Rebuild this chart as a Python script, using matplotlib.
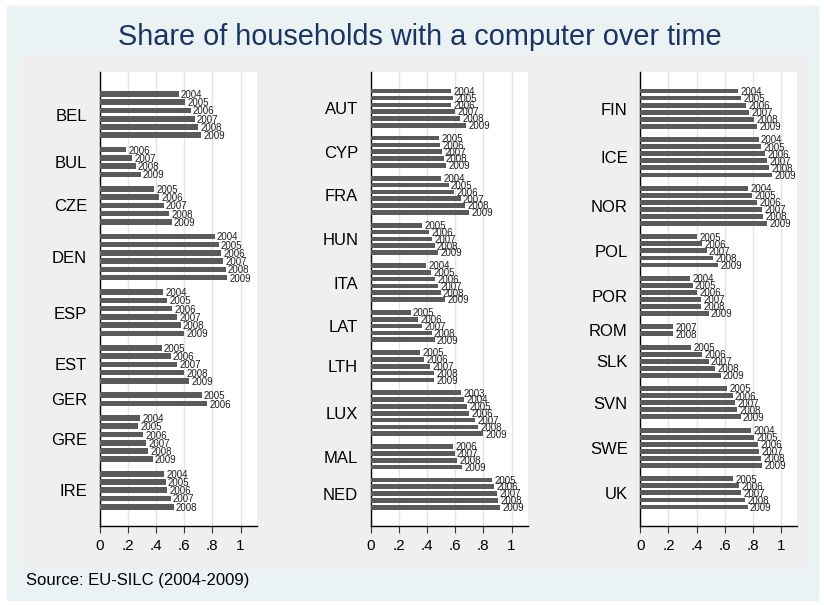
import numpy as np
import matplotlib
matplotlib.use("Agg")
import matplotlib.pyplot as plt
from matplotlib.patches import Rectangle

plt.rcParams['font.family'] = ['Liberation Sans', 'DejaVu Sans']

# Data: share of households with a computer, by country and survey year
left_countries = ['BEL', 'BUL', 'CZE', 'DEN', 'ESP', 'EST', 'GER', 'GRE', 'IRE']
left_years = [
    [2004, 2005, 2006, 2007, 2008, 2009],
    [2006, 2007, 2008, 2009],
    [2005, 2006, 2007, 2008, 2009],
    [2004, 2005, 2006, 2007, 2008, 2009],
    [2004, 2005, 2006, 2007, 2008, 2009],
    [2005, 2006, 2007, 2008, 2009],
    [2005, 2006],
    [2004, 2005, 2006, 2007, 2008, 2009],
    [2004, 2005, 2006, 2007, 2008],
]
left_values = [
    [0.560, 0.605, 0.645, 0.674, 0.698, 0.720],
    [0.190, 0.230, 0.255, 0.290],
    [0.388, 0.420, 0.455, 0.495, 0.512],
    [0.817, 0.845, 0.862, 0.879, 0.895, 0.907],
    [0.450, 0.480, 0.517, 0.548, 0.576, 0.598],
    [0.440, 0.505, 0.552, 0.602, 0.633],
    [0.724, 0.764],
    [0.288, 0.271, 0.307, 0.329, 0.345, 0.376],
    [0.460, 0.469, 0.479, 0.505, 0.526],
]

mid_countries = ['AUT', 'CYP', 'FRA', 'HUN', 'ITA', 'LAT', 'LTH', 'LUX', 'MAL', 'NED']
mid_years = [
    [2004, 2005, 2006, 2007, 2008, 2009],
    [2005, 2006, 2007, 2008, 2009],
    [2004, 2005, 2006, 2007, 2008, 2009],
    [2005, 2006, 2007, 2008, 2009],
    [2004, 2005, 2006, 2007, 2008, 2009],
    [2005, 2006, 2007, 2008, 2009],
    [2005, 2006, 2007, 2008, 2009],
    [2003, 2004, 2005, 2006, 2007, 2008, 2009],
    [2006, 2007, 2008, 2009],
    [2005, 2006, 2007, 2008, 2009],
]
mid_values = [
    [0.570, 0.584, 0.570, 0.600, 0.636, 0.678],
    [0.485, 0.492, 0.508, 0.518, 0.534],
    [0.500, 0.553, 0.591, 0.638, 0.669, 0.700],
    [0.366, 0.414, 0.437, 0.454, 0.480],
    [0.395, 0.428, 0.456, 0.478, 0.496, 0.530],
    [0.284, 0.338, 0.366, 0.433, 0.454],
    [0.350, 0.378, 0.420, 0.449, 0.449],
    [0.643, 0.664, 0.683, 0.700, 0.740, 0.764, 0.797],
    [0.584, 0.596, 0.612, 0.648],
    [0.863, 0.879, 0.900, 0.905, 0.917],
]

right_countries = ['FIN', 'ICE', 'NOR', 'POL', 'POR', 'ROM', 'SLK', 'SVN', 'SWE', 'UK']
right_years = [
    [2004, 2005, 2006, 2007, 2008, 2009],
    [2004, 2005, 2006, 2007, 2008, 2009],
    [2004, 2005, 2006, 2007, 2008, 2009],
    [2005, 2006, 2007, 2008, 2009],
    [2004, 2005, 2006, 2007, 2008, 2009],
    [2007, 2008],
    [2005, 2006, 2007, 2008, 2009],
    [2005, 2006, 2007, 2008, 2009],
    [2004, 2005, 2006, 2007, 2008, 2009],
    [2005, 2006, 2007, 2008, 2009],
]
right_values = [
    [0.697, 0.718, 0.751, 0.775, 0.810, 0.829],
    [0.841, 0.860, 0.886, 0.900, 0.917, 0.934],
    [0.768, 0.794, 0.829, 0.867, 0.874, 0.900],
    [0.403, 0.438, 0.472, 0.519, 0.552],
    [0.353, 0.372, 0.403, 0.434, 0.434, 0.486],
    [0.235, 0.235],
    [0.363, 0.441, 0.486, 0.531, 0.571],
    [0.616, 0.656, 0.675, 0.687, 0.713],
    [0.789, 0.808, 0.839, 0.846, 0.860, 0.867],
    [0.659, 0.704, 0.716, 0.746, 0.763],
]

x_ticks = [0, 0.2, 0.4, 0.6, 0.8, 1.0]
x_ticklabels = ['0', '.2', '.4', '.6', '.8', '1']

W, H = 824, 605
fig = plt.figure(figsize=(W / 100, H / 100), dpi=100)
fig.patch.set_facecolor('white')


def px_rect(x0, y0, x1, y1, color):
    fig.patches.append(Rectangle((x0 / W, 1 - y1 / H), (x1 - x0) / W, (y1 - y0) / H,
                                 transform=fig.transFigure, color=color, zorder=-10))


# outer (light blue) and graph region (light gray) backgrounds
px_rect(7, 6, 818, 600, '#eaf2f3')
px_rect(20, 55, 806, 568, '#efefef')

fig.text(420 / W, 1 - 37 / H, 'Share of households with a computer over time',
         ha='center', va='center', fontsize=20.8, color='#1c3462')
fig.text(26 / W, 1 - 581 / H, 'Source: EU-SILC (2004-2009)',
         ha='left', va='center', fontsize=12, color='black')

# panel left edge (px), data, gap between country groups, top/bottom padding (bar slots)
panels = [
    (99.7, left_countries, left_years, left_values, 0.75, 2.66, 2.33),
    (370.7, mid_countries, mid_years, mid_values, 0.87, 2.8, 2.75),
    (640.3, right_countries, right_years, right_values, 0.87, 2.69, 2.69),
]

for x0, countries, years, values, gap, pad_top, pad_bot in panels:
    ax = fig.add_axes([x0 / W, 1 - 526 / H, 157 / W, 454 / H])
    ax.set_facecolor('white')
    pos = 0.0
    centers = []
    for yrs, vals in zip(years, values):
        ys = pos + np.arange(len(vals))
        ax.barh(ys, vals, height=0.68, color='#5a5a5a', zorder=3)
        for y, v, yr in zip(ys, vals, yrs):
            ax.text(v + 0.016, y + 0.12, str(yr), ha='left', va='center',
                    fontsize=7, color='#1e1e1e', zorder=4)
        centers.append(ys.mean())
        pos = ys[-1] + 1 + gap
    last = pos - 1 - gap
    ax.set_ylim(last + pad_bot, -pad_top)
    ax.set_xlim(0, 1.115)
    ax.set_yticks(centers)
    ax.set_yticklabels(countries, fontsize=12)
    ax.tick_params(axis='y', length=0, pad=9)
    ax.set_xticks(x_ticks)
    ax.set_xticklabels(x_ticklabels, fontsize=11)
    ax.tick_params(axis='x', length=5, width=0.8, pad=4, color='#333333')
    ax.grid(axis='x', color='#e4e4e4', linewidth=1, zorder=0)
    ax.set_axisbelow(True)
    for s in ['top', 'right']:
        ax.spines[s].set_visible(False)
    for s in ['left', 'bottom']:
        ax.spines[s].set_color('black')
        ax.spines[s].set_linewidth(1)

fig.savefig('out.png', dpi=100)
